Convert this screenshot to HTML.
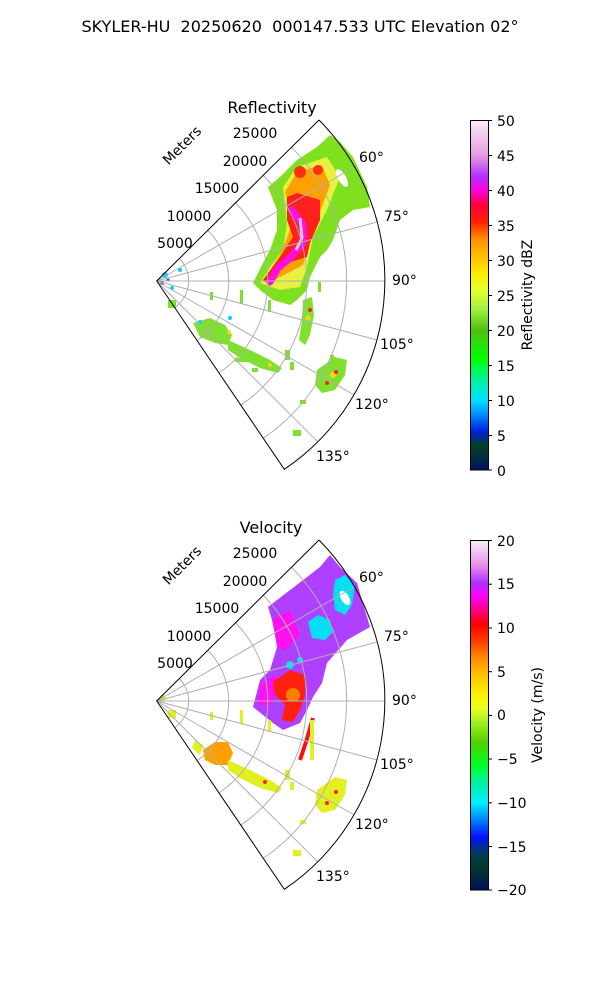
<!DOCTYPE html>
<html><head><meta charset="utf-8"><style>
body{margin:0;background:#fff}
svg{display:block;font-family:"DejaVu Sans","Liberation Sans",sans-serif}
</style></head><body>
<svg width="600" height="1000" viewBox="0 0 600 1000" xmlns="http://www.w3.org/2000/svg">
<defs>
<linearGradient id="gz" x1="0" y1="1" x2="0" y2="0">
<stop offset="0" stop-color="#001060"/><stop offset="0.04" stop-color="#003040"/><stop offset="0.07" stop-color="#004020"/>
<stop offset="0.09" stop-color="#003080"/><stop offset="0.11" stop-color="#0020e0"/><stop offset="0.16" stop-color="#0090ff"/>
<stop offset="0.2" stop-color="#00e0ff"/><stop offset="0.25" stop-color="#00f0b0"/><stop offset="0.32" stop-color="#00ff00"/>
<stop offset="0.4" stop-color="#50c010"/><stop offset="0.46" stop-color="#a0f040"/><stop offset="0.51" stop-color="#e0ff30"/>
<stop offset="0.56" stop-color="#ffee00"/><stop offset="0.61" stop-color="#ffc000"/><stop offset="0.66" stop-color="#ff9000"/>
<stop offset="0.71" stop-color="#ff2000"/><stop offset="0.76" stop-color="#ff0040"/><stop offset="0.8" stop-color="#ff00e0"/>
<stop offset="0.84" stop-color="#b030ff"/><stop offset="0.9" stop-color="#e89be0"/><stop offset="1" stop-color="#f8eef8"/>
</linearGradient>
<linearGradient id="gv" x1="0" y1="1" x2="0" y2="0">
<stop offset="0" stop-color="#001060"/><stop offset="0.05" stop-color="#003030"/><stop offset="0.09" stop-color="#004040"/>
<stop offset="0.12" stop-color="#003090"/><stop offset="0.15" stop-color="#0010ff"/><stop offset="0.2" stop-color="#0080ff"/>
<stop offset="0.25" stop-color="#00f0ff"/><stop offset="0.3" stop-color="#00f0b0"/><stop offset="0.36" stop-color="#00ff20"/>
<stop offset="0.42" stop-color="#50d000"/><stop offset="0.48" stop-color="#a0f020"/><stop offset="0.52" stop-color="#e8ff20"/>
<stop offset="0.56" stop-color="#ffee00"/><stop offset="0.62" stop-color="#ffc000"/><stop offset="0.66" stop-color="#ff9000"/>
<stop offset="0.71" stop-color="#ff4000"/><stop offset="0.76" stop-color="#ff0000"/><stop offset="0.8" stop-color="#ff0080"/>
<stop offset="0.84" stop-color="#ff00ff"/><stop offset="0.88" stop-color="#b030ff"/><stop offset="0.93" stop-color="#e890e8"/>
<stop offset="1" stop-color="#f8eef8"/>
</linearGradient>
</defs>
<rect width="600" height="1000" fill="#fff"/>
<text x="300" y="32" font-size="16" text-anchor="middle" style="white-space:pre">SKYLER-HU  20250620  000147.533 UTC Elevation 02°</text>

<g>
<polygon fill="#7fe020" points="268,187 280,177 297,160 317,147 330,135 340,142 353,157 367,187 370,207 353,210 340,220 333,240 327,250 320,257 310,277 307,290 297,300 290,305 273,300 260,290 253,283 263,263 270,250 277,230 277,210"/>
<polygon fill="#e8f040" points="283,187 297,167 327,157 340,177 327,210 313,237 307,267 300,287 280,290 260,283 270,267 283,250 287,223"/>
<polygon fill="#ffa000" points="285,192 297,172 322,165 330,185 320,212 310,240 303,265 290,272 270,282 265,278 280,255 290,230 290,210"/>
<polygon fill="#ff2020" points="287,197 297,193 320,200 320,220 310,243 307,257 287,263 273,277 267,283 263,280 280,257 293,237 287,220"/>
<circle cx="300" cy="172" r="6" fill="#ff3010"/><circle cx="318" cy="170" r="5" fill="#ff3010"/>
<polyline fill="none" stroke="#ff10e0" stroke-width="7" stroke-linejoin="round" stroke-linecap="round" points="292,210 303,225 303,243 290,258 278,268 270,282"/>
<polyline fill="none" stroke="#f0c0f0" stroke-width="3" points="300,218 302,238 296,250"/>
<ellipse cx="342" cy="178" rx="4" ry="10" fill="#fff" transform="rotate(-30 342 178)"/>
<g fill="#80e030">
<polygon points="193,323 210,318 225,325 232,335 228,345 215,343 200,337"/>
<polygon points="228,340 250,350 270,360 282,368 278,373 260,368 240,358 228,350"/>
<polygon points="317,370 335,357 347,360 345,375 335,390 322,393 315,385"/>
<polygon points="303,300 312,297 314,315 310,335 305,345 299,340 302,320"/>
<rect x="210" y="292" width="3" height="8"/><rect x="240" y="290" width="3" height="14"/><rect x="268" y="300" width="3" height="12"/>
<rect x="235" y="358" width="18" height="4"/><rect x="252" y="368" width="6" height="4"/><rect x="293" y="430" width="8" height="6"/>
<rect x="300" y="400" width="6" height="4"/><rect x="285" y="350" width="5" height="10"/><rect x="290" y="362" width="4" height="8"/>
<rect x="330" y="355" width="4" height="8"/><rect x="318" y="282" width="3" height="10"/><rect x="168" y="300" width="8" height="8"/>
</g>
<g fill="#ffd020"><circle cx="308" cy="318" r="2.5"/><circle cx="333" cy="375" r="3"/><circle cx="229" cy="332" r="2"/><circle cx="270" cy="365" r="2"/></g>
<g fill="#ff2020"><circle cx="310" cy="310" r="2"/><circle cx="336" cy="372" r="2"/><circle cx="327" cy="383" r="2"/></g>
<g fill="#00d0ff"><circle cx="165" cy="275" r="3"/><circle cx="172" cy="288" r="2"/><circle cx="200" cy="322" r="2"/><circle cx="230" cy="318" r="2"/><circle cx="180" cy="270" r="2"/></g>
<g fill="#3050d0"><circle cx="162" cy="283" r="2"/><circle cx="168" cy="280" r="1.5"/></g>
</g>

<g transform="translate(0,420)">
<polygon fill="#b040ff" points="268,187 320,147 330,135 340,147 357,163 370,207 347,220 327,243 322,263 313,277 307,290 300,303 283,310 273,303 253,287 260,260 270,250 277,227 273,203"/>
<polygon fill="#ff10f0" points="272,200 290,190 300,215 285,230 278,228"/>
<polygon fill="#ff10f0" points="260,265 275,255 283,265 270,285 258,285"/>
<polygon fill="#ff2010" points="273,262 290,250 305,255 305,275 300,290 293,302 282,300 285,285 275,275"/>
<circle cx="293" cy="275" r="7" fill="#ff8000"/>
<polygon fill="#00e0f0" points="308,202 318,195 330,200 333,212 325,220 312,218"/>
<polygon fill="#00e0f0" points="335,160 345,155 355,165 352,185 345,195 335,190 333,175"/>
<circle cx="290" cy="245" r="4" fill="#00e0f0"/><circle cx="300" cy="240" r="3" fill="#00e0f0"/>
<ellipse cx="345" cy="178" rx="4" ry="8" fill="#fff" transform="rotate(-30 345 178)"/>
<polyline fill="none" stroke="#ff1010" stroke-width="4" points="300,340 306,322 313,298"/>
<polygon fill="#ffa000" points="203,330 215,322 228,322 233,333 228,345 215,345 205,340"/>
<g fill="#e0f020">
<polygon points="195,320 203,325 200,335 192,328"/>
<polygon points="228,340 250,350 270,360 282,368 278,373 260,368 240,358 228,350"/>
<polygon points="317,370 335,357 347,360 345,375 335,390 322,393 315,385"/>
<rect x="210" y="292" width="3" height="8"/><rect x="240" y="290" width="3" height="14"/><rect x="268" y="300" width="3" height="12"/>
<rect x="293" y="430" width="8" height="6"/><rect x="300" y="400" width="6" height="4"/><rect x="285" y="350" width="5" height="10"/>
<rect x="290" y="362" width="4" height="8"/><rect x="310" y="300" width="4" height="40"/><rect x="168" y="290" width="8" height="8"/>
<circle cx="163" cy="278" r="3"/>
</g>
<g fill="#ff2020"><circle cx="336" cy="372" r="2"/><circle cx="327" cy="383" r="2"/><circle cx="265" cy="362" r="2"/></g>
</g>

<g id="ax">
<g fill="none" stroke="#b0b0b0" stroke-width="1">
<path d="M179.3 258.5 A32 32 0 0 1 174.6 307.6"/>
<path d="M207.6 230.1 A72 72 0 0 1 197 340.7"/>
<path d="M235.2 202.5 A111 111 0 0 1 218.8 373"/>
<path d="M262.8 174.9 A150 150 0 0 1 240.6 405.3"/>
<path d="M291 146.7 A190 190 0 0 1 262.9 438.5"/>
<line x1="156.7" y1="281" x2="354.2" y2="167"/>
<line x1="156.7" y1="281" x2="377" y2="222"/>
<line x1="156.7" y1="281" x2="384.7" y2="281"/>
<line x1="156.7" y1="281" x2="377" y2="340"/>
<line x1="156.7" y1="281" x2="354.2" y2="395"/>
<line x1="156.7" y1="281" x2="318" y2="442.2"/>
</g>
<path d="M319 120 L156.7 281 L284.3 469.3 A228 228 0 0 0 319 120" fill="none" stroke="#000" stroke-width="1"/>
<g font-size="14" fill="#000">
<text x="359" y="162">60°</text>
<text x="384" y="221">75°</text>
<text x="392" y="285">90°</text>
<text x="380" y="349">105°</text>
<text x="355" y="409">120°</text>
<text x="316" y="461">135°</text>
<text x="175" y="248" text-anchor="middle">5000</text>
<text x="189" y="221" text-anchor="middle">10000</text>
<text x="217" y="193" text-anchor="middle">15000</text>
<text x="245" y="166" text-anchor="middle">20000</text>
<text x="255" y="138" text-anchor="middle">25000</text>
<text x="183" y="153" text-anchor="middle" transform="rotate(-45 179 148)">Meters</text>
</g>
</g>
<use href="#ax" transform="translate(0,420)"/>
<text x="272" y="113" font-size="16" text-anchor="middle">Reflectivity</text>
<text x="271" y="533" font-size="16" text-anchor="middle">Velocity</text>

<rect x="470.5" y="120.5" width="18" height="349.5" fill="url(#gz)" stroke="#000" stroke-width="1"/>
<g stroke="#000"><line x1="488.5" y1="120.5" x2="492" y2="120.5"/><line x1="488.5" y1="155.5" x2="492" y2="155.5"/><line x1="488.5" y1="190.5" x2="492" y2="190.5"/><line x1="488.5" y1="225.5" x2="492" y2="225.5"/><line x1="488.5" y1="260.5" x2="492" y2="260.5"/><line x1="488.5" y1="295.5" x2="492" y2="295.5"/><line x1="488.5" y1="330.5" x2="492" y2="330.5"/><line x1="488.5" y1="365.5" x2="492" y2="365.5"/><line x1="488.5" y1="400.5" x2="492" y2="400.5"/><line x1="488.5" y1="435.5" x2="492" y2="435.5"/><line x1="488.5" y1="470" x2="492" y2="470"/></g>
<g font-size="14"><text x="497" y="126">50</text><text x="497" y="161">45</text><text x="497" y="196">40</text><text x="497" y="231">35</text><text x="497" y="266">30</text><text x="497" y="301">25</text><text x="497" y="336">20</text><text x="497" y="371">15</text><text x="497" y="406">10</text><text x="497" y="441">5</text><text x="497" y="476">0</text></g>
<text x="532" y="295" font-size="14" text-anchor="middle" transform="rotate(-90 532 295)">Reflectivity dBZ</text>

<rect x="470.5" y="540.5" width="18" height="349.5" fill="url(#gv)" stroke="#000" stroke-width="1"/>
<g stroke="#000"><line x1="488.5" y1="540.5" x2="492" y2="540.5"/><line x1="488.5" y1="584.2" x2="492" y2="584.2"/><line x1="488.5" y1="628" x2="492" y2="628"/><line x1="488.5" y1="671.7" x2="492" y2="671.7"/><line x1="488.5" y1="715.4" x2="492" y2="715.4"/><line x1="488.5" y1="759" x2="492" y2="759"/><line x1="488.5" y1="802.8" x2="492" y2="802.8"/><line x1="488.5" y1="846.5" x2="492" y2="846.5"/><line x1="488.5" y1="890" x2="492" y2="890"/></g>
<g font-size="14"><text x="497" y="546">20</text><text x="497" y="589">15</text><text x="497" y="633">10</text><text x="497" y="677">5</text><text x="497" y="720">0</text><text x="497" y="764">−5</text><text x="497" y="808">−10</text><text x="497" y="852">−15</text><text x="497" y="895">−20</text></g>
<text x="542" y="715" font-size="14" text-anchor="middle" transform="rotate(-90 542 715)">Velocity (m/s)</text>
</svg>
</body></html>
